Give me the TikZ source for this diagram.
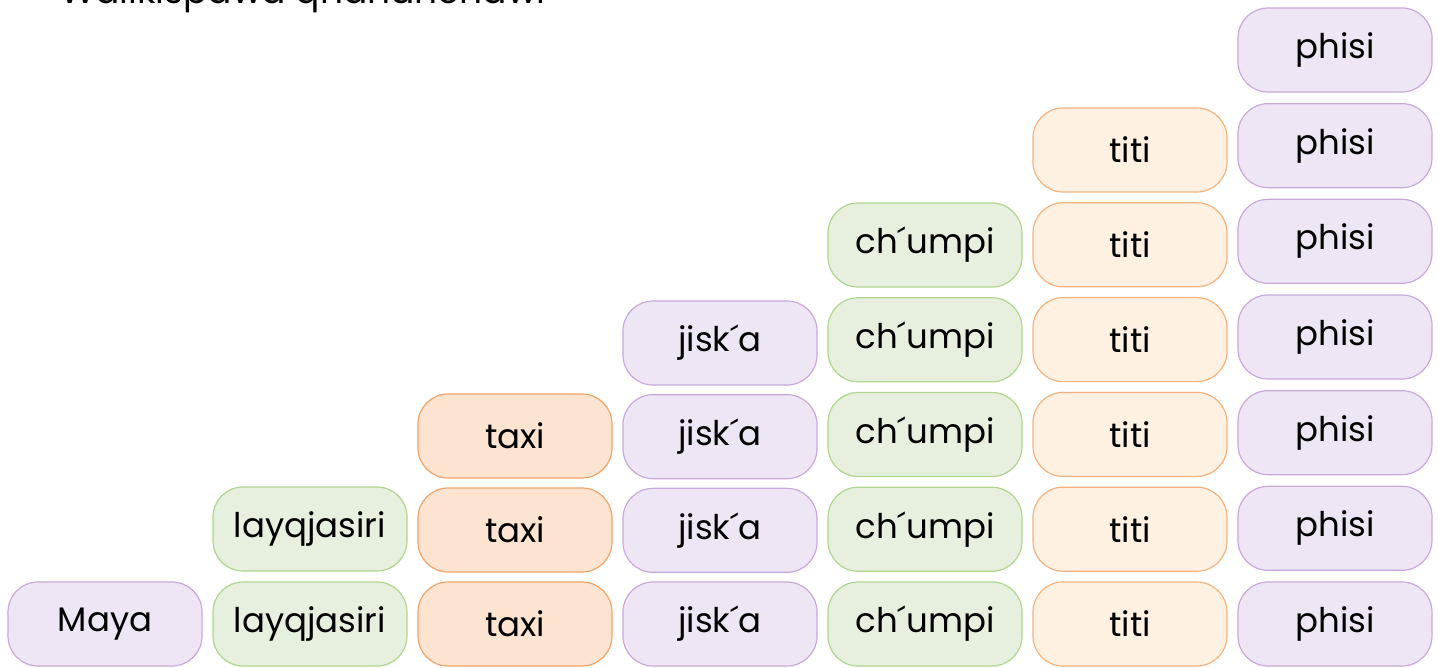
\documentclass[tikz,border=0pt]{standalone}
\usepackage{fontspec}
\setmainfont{Poppins}
\definecolor{pfill}{HTML}{EEE6F5}
\definecolor{pdraw}{HTML}{C9A9D9}
\definecolor{gfill}{HTML}{E7F0DF}
\definecolor{gdraw}{HTML}{AFD58F}
\definecolor{ofill}{HTML}{FDE4D1}
\definecolor{odraw}{HTML}{F0A46A}
\definecolor{lfill}{HTML}{FFF1E1}
\definecolor{ldraw}{HTML}{F4B27E}
\begin{document}
\begin{tikzpicture}[x=1pt,y=-1pt,
  box/.style={rounded corners=30pt, line width=1.2pt, minimum width=194pt, minimum height=84pt, inner sep=0pt, font=\fontsize{34}{40}\selectfont},
  purp/.style={box, fill=pfill, draw=pdraw},
  grn/.style={box, fill=gfill, draw=gdraw},
  org/.style={box, fill=ofill, draw=odraw},
  lor/.style={box, fill=lfill, draw=ldraw},
  title/.style={anchor=base west, inner sep=0pt, font=\fontsize{36}{40}\selectfont}]
\useasboundingbox (0,0) rectangle (1438,668);
\node[title] (ttl) at (60,4) {Walikispawa qhananchawi};
\foreach \col/\n/\t/\txt/\sty in {0/1/582/Maya/purp, 1/2/487/layqjasiri/grn, 2/3/394/taxi/org, 3/4/301/jisk´a/purp, 4/5/203/ch´umpi/grn, 5/6/108/titi/lor, 6/7/8/phisi/purp}{
  \pgfmathsetmacro{\pitch}{(582-\t)/max(\n-1,1)}
  \foreach \i in {1,...,\n}{
    \pgfmathsetmacro{\cx}{8+97+205*\col}
    \pgfmathsetmacro{\cy}{\t+42+\pitch*(\i-1)}
    \node[\sty] (c\col-\i) at (\cx,\cy) {\txt};
  }
}
\end{tikzpicture}
\end{document}
